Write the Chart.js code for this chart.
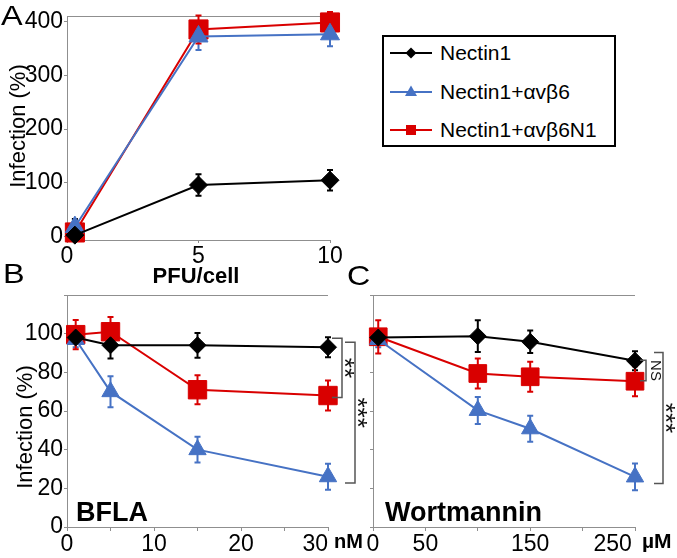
<!DOCTYPE html>
<html>
<head>
<meta charset="utf-8">
<script src="https://cdn.jsdelivr.net/npm/chart.js@4.4.1/dist/chart.umd.min.js"></script>
<style>
  html, body { margin: 0; padding: 0; background: #fff; }
  #wrap { position: relative; width: 677px; height: 558px; overflow: hidden;
          font-family: "Liberation Sans", Arial, sans-serif; }
  #wrap canvas { position: absolute; left: 0; top: 0; }
  .legend { position: absolute; left: 382px; top: 35px; width: 234px; height: 112px;
            box-sizing: border-box; border: 2px solid #000; background: #fff; }
  .legend .row { position: absolute; left: 0; height: 24px; }
  .legend svg { position: absolute; left: 6px; top: 2px; }
  .legend span { position: absolute; left: 56px; top: 0; font-size: 21px; line-height: 24px;
                 white-space: nowrap; color: #000; }
</style>
</head>
<body>
<div id="wrap">
  <canvas id="chartA" width="677" height="558"></canvas>
  <canvas id="chartB" width="677" height="558"></canvas>
  <canvas id="chartC" width="677" height="558"></canvas>
  <div class="legend">
    <div class="row" style="top:4px">
      <svg width="44" height="20"><line x1="0" y1="10" x2="42" y2="10" stroke="#000" stroke-width="2"/><polygon points="21,4.5 26.5,10 21,15.5 15.5,10" fill="#000"/></svg>
      <span>Nectin1</span>
    </div>
    <div class="row" style="top:43px">
      <svg width="44" height="20"><line x1="0" y1="10" x2="42" y2="10" stroke="#4672C4" stroke-width="2"/><polygon points="21,3.5 27,14 15,14" fill="#4672C4"/></svg>
      <span>Nectin1+αvβ6</span>
    </div>
    <div class="row" style="top:81px">
      <svg width="44" height="20"><line x1="0" y1="10" x2="42" y2="10" stroke="#D90000" stroke-width="2"/><rect x="16" y="5" width="10" height="10" fill="#D90000"/></svg>
      <span>Nectin1+αvβ6N1</span>
    </div>
  </div>
</div>
<script>
// ---- panel A : infection vs PFU/cell ----
const pfu = [0.3, 5, 10];
const aNectin = [3, 96, 105];
const aNectinErr = [30, 20, 19];
const aAvb6 = [18, 372, 376];
const aAvb6Err = [8, 25, 22];
const aAvb6N1 = [8, 385, 398];
const aAvb6N1Err = [8, 26, 22];
const aYTicks = [0, 100, 200, 300, 400];
const aXTicks = [0, 5, 10];

// ---- panel B : BFLA (nM) ----
const bfla = [1, 5, 15, 30];
const bNectin = [98, 94, 94, 93];
const bNectinErr = [3, 6.9, 6.4, 5.2];
const bAvb6 = [97, 70, 40, 26];
const bAvb6Err = [4, 8, 6.7, 6.7];
const bAvb6N1 = [99.5, 101, 71, 68];
const bAvb6N1Err = [7.6, 7.6, 7.5, 7.8];
const bXTicks = [0, 5, 10, 15, 20, 25, 30];
const bXLabels = [0, 10, 20, 30];

// ---- panel C : Wortmannin (µM) ----
const wort = [5, 100, 150, 250];
const cNectin = [98, 98.7, 95.8, 86];
const cNectinErr = [3, 8.2, 5.8, 4.9];
const cAvb6 = [97, 60.3, 50.8, 25.9];
const cAvb6Err = [4, 7, 6.7, 6.9];
const cAvb6N1 = [98.4, 79.4, 77.7, 75.4];
const cAvb6N1Err = [8.6, 7.8, 7.8, 7.8];
const cXTicks = [0, 50, 100, 150, 200, 250];
const cXLabels = [0, 50, 150, 250];

const infTicks = [0, 20, 40, 60, 80, 100, 120];

const BLACK = '#000000', BLUE = '#4672C4', RED = '#D90000';
const GRAY = '#8f8f8f';
const FAMILY = "'Liberation Sans', Arial, sans-serif";
const tickFont = { family: FAMILY, size: 23 };

function series(label, xs, ys, errs, color, style, radius) {
    return {
        label: label,
        data: xs.map((x, i) => ({ x: x, y: ys[i] })),
        errors: errs,
        borderColor: color,
        backgroundColor: color,
        borderWidth: 2,
        pointStyle: style,
        pointRadius: radius,
        pointHoverRadius: radius,
        pointBackgroundColor: color,
        pointBorderColor: color,
        pointBorderWidth: 1,
        tension: 0,
        fill: false,
        clip: false
    };
}

// vertical error bars, drawn under the markers
const errorBars = {
    id: 'errorBars',
    beforeDatasetsDraw(chart) {
        const ctx = chart.ctx;
        const ys = chart.scales.y;
        const area = chart.chartArea;
        chart.data.datasets.forEach((ds, i) => {
            const meta = chart.getDatasetMeta(i);
            ctx.save();
            ctx.strokeStyle = ds.borderColor;
            ctx.lineWidth = 2;
            meta.data.forEach((pt, j) => {
                const v = ds.data[j].y, e = ds.errors[j];
                const top = Math.max(ys.getPixelForValue(v + e), area.top - 4);
                const bot = Math.min(ys.getPixelForValue(v - e), area.bottom);
                ctx.beginPath();
                ctx.moveTo(pt.x, top); ctx.lineTo(pt.x, bot);
                ctx.moveTo(pt.x - 3, top); ctx.lineTo(pt.x + 3, top);
                ctx.moveTo(pt.x - 3, bot); ctx.lineTo(pt.x + 3, bot);
                ctx.stroke();
            });
            ctx.restore();
        });
    }
};

// thin gray line closing the top of each plot
const topLine = {
    id: 'topLine',
    beforeDraw(chart) {
        const a = chart.chartArea, ctx = chart.ctx;
        ctx.save();
        ctx.strokeStyle = GRAY;
        ctx.lineWidth = 1;
        ctx.beginPath();
        ctx.moveTo(a.left, a.top + 0.5);
        ctx.lineTo(a.right, a.top + 0.5);
        ctx.stroke();
        ctx.restore();
    }
};

function drawText(ctx, t) {
    ctx.save();
    ctx.font = t.font;
    ctx.fillStyle = t.color || '#000';
    ctx.textAlign = t.align || 'left';
    ctx.textBaseline = t.baseline || 'alphabetic';
    ctx.translate(t.x, t.y);
    if (t.rot) ctx.rotate(t.rot);
    if (t.sx) ctx.scale(t.sx, 1);
    ctx.fillText(t.text, 0, 0);
    ctx.restore();
}

// texts, unit after the last tick and significance brackets
function extras(cfg) {
    return {
        id: 'extras',
        afterDraw(chart) {
            const ctx = chart.ctx;
            const xs = chart.scales.x, ys = chart.scales.y;
            (cfg.texts || []).forEach(t => drawText(ctx, t));
            if (cfg.unit) {
                drawText(ctx, {
                    text: cfg.unit.text, font: 'bold ' + cfg.unit.size + 'px ' + FAMILY,
                    x: xs.getPixelForValue(cfg.unit.at) + cfg.unit.dx, y: cfg.unit.y
                });
            }
            (cfg.brackets || []).forEach(b => {
                const x = xs.getPixelForValue(b.at) + b.dx;
                const y1 = ys.getPixelForValue(b.top), y2 = ys.getPixelForValue(b.bottom);
                ctx.save();
                ctx.strokeStyle = '#555';
                ctx.lineWidth = 1.5;
                ctx.beginPath();
                ctx.moveTo(x - b.arm, y1); ctx.lineTo(x, y1);
                ctx.lineTo(x, y2); ctx.lineTo(x - b.arm, y2);
                ctx.stroke();
                ctx.restore();
                drawText(ctx, {
                    text: b.label, font: b.size + 'px ' + FAMILY, color: '#111',
                    x: x + b.tx, y: (y1 + y2) / 2, align: 'center', baseline: 'middle', rot: Math.PI / 2
                });
            });
        }
    };
}

function makePanel(id, cfg) {
    return new Chart(document.getElementById(id), {
        type: 'line',
        data: { datasets: cfg.datasets },
        options: {
            responsive: false,
            animation: false,
            events: [],
            layout: { padding: cfg.pad },
            plugins: { legend: { display: false }, tooltip: { enabled: false } },
            scales: {
                x: {
                    type: 'linear', min: cfg.xMin, max: cfg.xMax,
                    afterBuildTicks: s => { s.ticks = cfg.xTicks.map(v => ({ value: v })); },
                    afterFit: s => { s.height = cfg.xHeight; s.paddingLeft = 0; s.paddingRight = 0; },
                    grid: { drawOnChartArea: false, tickLength: cfg.xTickLen, color: GRAY },
                    border: { color: GRAY, width: 1 },
                    ticks: { autoSkip: false, maxRotation: 0, padding: cfg.xPad, font: tickFont,
                             color: '#000', callback: cfg.xLabel }
                },
                y: {
                    type: 'linear', min: cfg.yMin, max: cfg.yMax,
                    afterBuildTicks: s => { s.ticks = cfg.yTicks.map(v => ({ value: v })); },
                    afterFit: s => { s.width = cfg.yWidth; s.paddingTop = 0; s.paddingBottom = 0; },
                    grid: { drawOnChartArea: false, tickLength: 3, color: GRAY },
                    border: { color: GRAY, width: 1 },
                    ticks: { autoSkip: false, padding: 1, font: tickFont, color: '#000', callback: cfg.yLabel }
                }
            }
        },
        plugins: [topLine, errorBars, extras(cfg)]
    });
}

makePanel('chartA', {
    datasets: [
        series('Nectin1', pfu, aNectin, aNectinErr, BLACK, 'rectRot', 9),
        series('Nectin1+αvβ6', pfu, aAvb6, aAvb6Err, BLUE, 'triangle', 11),
        series('Nectin1+αvβ6N1', pfu, aAvb6N1, aAvb6N1Err, RED, 'rect', 13.5)
    ],
    pad: { left: 7, right: 347, top: 16, bottom: 278 },
    xMin: 0, xMax: 10, xTicks: aXTicks, xHeight: 40, xTickLen: 3, xPad: 0,
    xLabel: v => String(v),
    yMin: -6, yMax: 410, yTicks: aYTicks, yWidth: 60,
    yLabel: v => String(v),
    texts: [
        { text: 'A', font: '27px ' + FAMILY, x: 1, y: 25, sx: 1.2 },
        { text: 'Infection (%)', font: '22px ' + FAMILY, x: 19, y: 126, align: 'center', baseline: 'middle', rot: -Math.PI / 2 },
        { text: 'PFU/cell', font: 'bold 22px ' + FAMILY, x: 196, y: 283, align: 'center' }
    ]
});

makePanel('chartB', {
    datasets: [
        series('Nectin1', bfla, bNectin, bNectinErr, BLACK, 'rectRot', 8.5),
        series('Nectin1+αvβ6', bfla, bAvb6, bAvb6Err, BLUE, 'triangle', 10),
        series('Nectin1+αvβ6N1', bfla, bAvb6N1, bAvb6N1Err, RED, 'rect', 13)
    ],
    pad: { left: 7, right: 349, top: 295, bottom: 3 },
    xMin: 0, xMax: 30, xTicks: bXTicks, xHeight: 28, xTickLen: 4, xPad: 0,
    xLabel: v => bXLabels.includes(v) ? (v === 30 ? '30    ' : String(v)) : '',
    yMin: 0, yMax: 120, yTicks: infTicks, yWidth: 60,
    yLabel: v => v === 120 ? '' : String(v),
    unit: { text: 'nM', size: 20, at: 30, dx: 6, y: 548 },
    brackets: [
        { at: 30, dx: 14, top: 97.6, bottom: 67, arm: 10, label: '**', size: 26, tx: 1 },
        { at: 30, dx: 27, top: 95.5, bottom: 22.8, arm: 10, label: '***', size: 26, tx: 1 }
    ],
    texts: [
        { text: 'B', font: '27px ' + FAMILY, x: 3, y: 283, sx: 1.2 },
        { text: 'Infection (%)', font: '22px ' + FAMILY, x: 26, y: 427, align: 'center', baseline: 'middle', rot: -Math.PI / 2 },
        { text: 'BFLA', font: 'bold 27px ' + FAMILY, x: 76, y: 521 }
    ]
});

makePanel('chartC', {
    datasets: [
        series('Nectin1', wort, cNectin, cNectinErr, BLACK, 'rectRot', 8.5),
        series('Nectin1+αvβ6', wort, cAvb6, cAvb6Err, BLUE, 'triangle', 10),
        series('Nectin1+αvβ6N1', wort, cAvb6N1, cAvb6N1Err, RED, 'rect', 12.5)
    ],
    pad: { left: 343, right: 42, top: 295, bottom: 3 },
    xMin: 0, xMax: 250, xTicks: cXTicks, xHeight: 28, xTickLen: 4, xPad: 0,
    xLabel: v => cXLabels.includes(v) ? (v === 250 ? '250       ' : String(v)) : '',
    yMin: 0, yMax: 120, yTicks: infTicks, yWidth: 30,
    yLabel: v => '',
    unit: { text: 'µM', size: 21, at: 250, dx: 7, y: 548 },
    brackets: [
        { at: 250, dx: 11, top: 86.3, bottom: 75.6, arm: 6, label: 'NS', size: 15, tx: 9 },
        { at: 250, dx: 28, top: 90.3, bottom: 22.5, arm: 9, label: '***', size: 26, tx: 1 }
    ],
    texts: [
        { text: 'C', font: '28px ' + FAMILY, x: 347, y: 285, sx: 1.15 },
        { text: 'Wortmannin', font: 'bold 27px ' + FAMILY, x: 385, y: 521 }
    ]
});
</script>
</body>
</html>
